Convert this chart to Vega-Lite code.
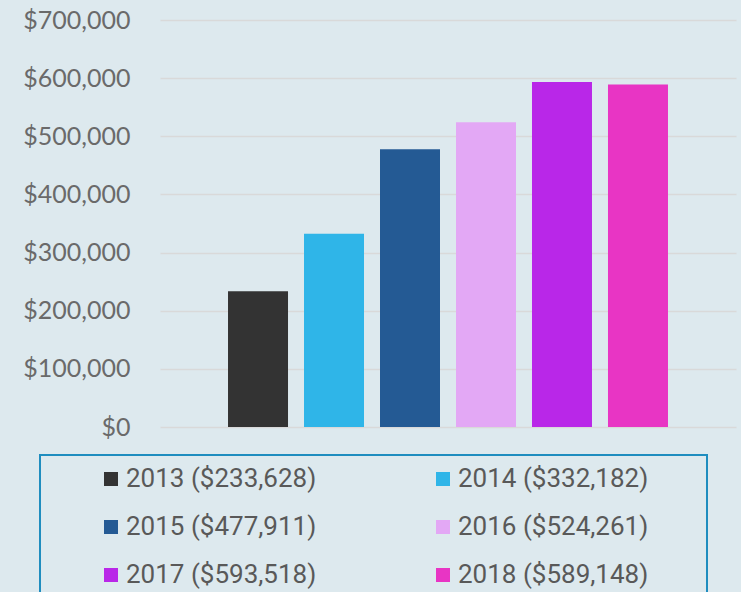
{
  "$schema": "https://vega.github.io/schema/vega-lite/v6.json",
  "width": 576,
  "height": 407,
  "autosize": {"type": "none"},
  "padding": {"left": 160, "top": 20, "right": 5, "bottom": 165},
  "background": "#dde9ee",
  "config": {
    "view": {"stroke": null},
    "axis": {"labelFont": "Lato", "labelFontSize": 25, "labelColor": "#6a6a6a"},
    "legend": {"strokeWidth": 2}
  },
  "data": {
    "values": [
      {"year": "2013", "label": "2013 ($233,628)", "value": 233628},
      {"year": "2014", "label": "2014 ($332,182)", "value": 332182},
      {"year": "2015", "label": "2015 ($477,911)", "value": 477911},
      {"year": "2016", "label": "2016 ($524,261)", "value": 524261},
      {"year": "2017", "label": "2017 ($593,518)", "value": 593518},
      {"year": "2018", "label": "2018 ($589,148)", "value": 589148}
    ]
  },
  "mark": {"type": "bar"},
  "encoding": {
    "x": {
      "field": "year", "type": "nominal",
      "scale": {"paddingInner": 0.2105, "paddingOuter": 0.895},
      "axis": null
    },
    "y": {
      "field": "value", "type": "quantitative",
      "scale": {"domain": [0, 700000], "nice": false},
      "axis": {
        "title": null, "values": [0, 100000, 200000, 300000, 400000, 500000, 600000, 700000],
        "format": "$,.0f", "domain": false, "ticks": false, "labelPadding": 30,
        "gridColor": "#d9d9d9", "gridWidth": 1.5
      }
    },
    "color": {
      "field": "label", "type": "nominal",
      "scale": {"range": ["#333333", "#2fb5e8", "#245a94", "#e3a8f5", "#b927e8", "#e835c4"]},
      "legend": {
        "title": " ", "titleOrient": "right", "titlePadding": 48,
        "orient": "none", "legendX": -120, "legendY": 435,
        "direction": "horizontal",
        "columns": 2, "columnPadding": 66, "rowPadding": 22,
        "padding": 11, "symbolOffset": 47,
        "strokeColor": "#1f8dbf",
        "symbolType": "square", "symbolSize": 196, "symbolStrokeWidth": 0,
        "labelFont": "Roboto", "labelFontSize": 26, "labelColor": "#595959",
        "labelOffset": 2, "labelLimit": 300
      }
    }
  }
}
